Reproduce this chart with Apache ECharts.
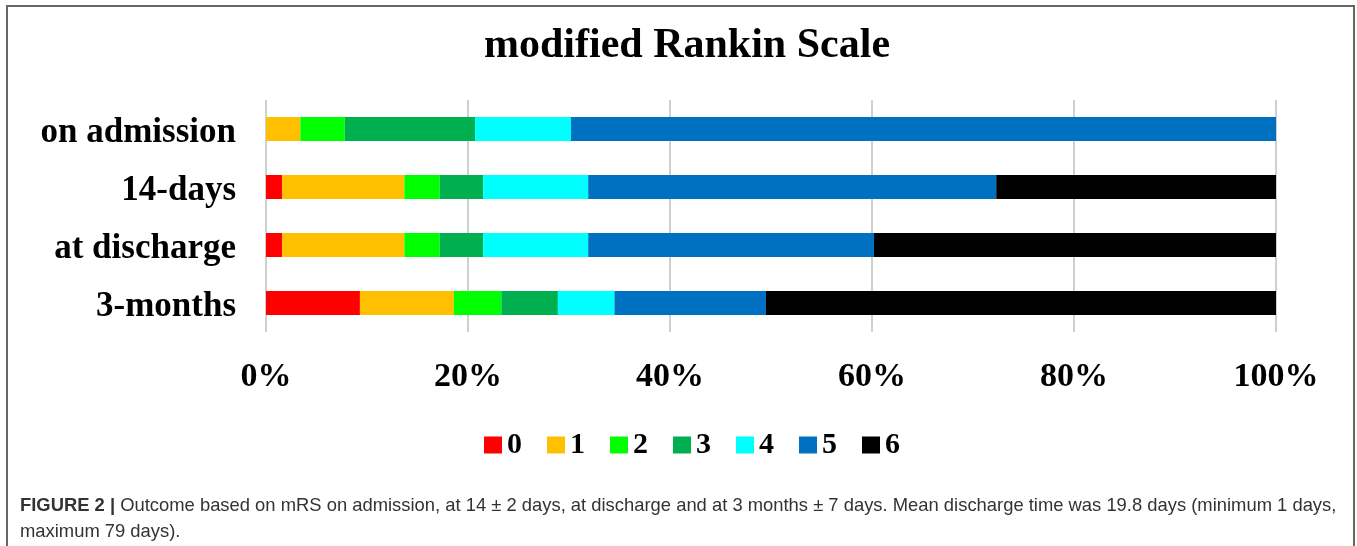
<!DOCTYPE html>
<html>
<head>
<meta charset="utf-8">
<script src="https://cdn.jsdelivr.net/npm/echarts@6/dist/echarts.min.js"></script>
<style>
html,body{margin:0;padding:0;background:#fff;}
#chart{width:1357px;height:546px;}
</style>
</head>
<body>
<div id="chart"></div>
<script>
const categories = ['on admission', '14-days', 'at discharge', '3-months'];
const seriesNames = ['0', '1', '2', '3', '4', '5', '6'];
const mrs0 = [0, 1.6, 1.6, 9.3];
const mrs1 = [3.4, 12.1, 12.1, 9.3];
const mrs2 = [4.4, 3.5, 3.5, 4.7];
const mrs3 = [12.9, 4.3, 4.3, 5.6];
const mrs4 = [9.5, 10.4, 10.4, 5.6];
const mrs5 = [69.8, 40.4, 28.3, 15.0];
const mrs6 = [0, 27.7, 39.8, 50.5];
const xTicks = [0, 20, 40, 60, 80, 100];
const colors = ['#FF0000', '#FFC000', '#00FF00', '#00B050', '#00FFFF', '#0070C0', '#000000'];
const captionLine1 = 'Outcome based on mRS on admission, at 14 \u00B1 2 days, at discharge and at 3 months \u00B1 7 days. Mean discharge time was 19.8 days (minimum 1 days,';
const captionLine2 = 'maximum 79 days).';

const allData = [mrs0, mrs1, mrs2, mrs3, mrs4, mrs5, mrs6];
const serif = '"Liberation Serif", "Times New Roman", serif';
const sans = '"Liberation Sans", Arial, sans-serif';

const chart = echarts.init(document.getElementById('chart'));
chart.setOption({
  animation: false,
  backgroundColor: '#fff',
  title: {
    text: 'modified Rankin Scale',
    left: 682,
    textAlign: 'center',
    top: 20,
    textStyle: { fontFamily: serif, fontWeight: 'bold', fontSize: 42, color: '#000' }
  },
  legend: {
    data: seriesNames,
    left: 479,
    top: 425,
    itemWidth: 18,
    itemHeight: 17,
    itemGap: 25,
    icon: 'rect',
    textStyle: { fontFamily: serif, fontWeight: 'bold', fontSize: 30, color: '#000' }
  },
  grid: { left: 266, right: 81, top: 100, height: 232 },
  xAxis: {
    type: 'value',
    min: xTicks[0],
    max: xTicks[xTicks.length - 1],
    interval: 20,
    axisLine: { show: false },
    axisTick: { show: false },
    splitLine: { show: true, lineStyle: { color: '#D0D0D0', width: 2 } },
    axisLabel: {
      formatter: '{value}%',
      margin: 28,
      fontFamily: serif, fontWeight: 'bold', fontSize: 34, color: '#000'
    }
  },
  yAxis: {
    type: 'category',
    data: categories,
    inverse: true,
    axisLine: { show: false },
    axisTick: { show: false },
    axisLabel: {
      margin: 30,
      formatter: v => '{c|' + v + '}',
      rich: { c: { fontFamily: serif, fontWeight: 'bold', fontSize: 35, color: '#000', padding: [8, 0, 0, 0] } }
    }
  },
  series: seriesNames.map((n, i) => ({
    name: n,
    type: 'bar',
    stack: 'total',
    barWidth: 24,
    itemStyle: { color: colors[i] },
    data: allData[i]
  })),
  graphic: [
    {
      type: 'rect',
      shape: { x: 7, y: 6, width: 1347, height: 580 },
      style: { fill: 'none', stroke: '#666', lineWidth: 2 },
      silent: true
    },
    {
      type: 'text',
      left: 20,
      top: 497,
      style: {
        text: '{b|FIGURE 2 |} ' + captionLine1,
        fontFamily: sans, fontSize: 18.4, fill: '#333',
        rich: { b: { fontFamily: sans, fontSize: 18.4, fontWeight: 'bold', fill: '#333' } }
      }
    },
    {
      type: 'text',
      left: 20,
      top: 523,
      style: { text: captionLine2, fontFamily: sans, fontSize: 18.4, fill: '#333' }
    }
  ]
});
</script>
</body>
</html>
